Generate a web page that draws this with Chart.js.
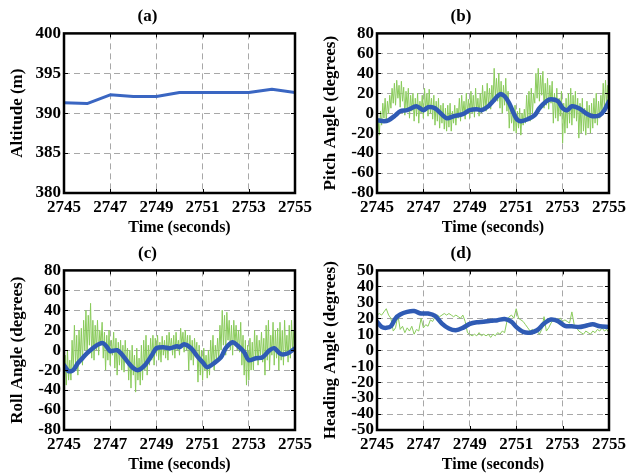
<!DOCTYPE html>
<html>
<head>
<meta charset="utf-8">
<script src="https://cdn.jsdelivr.net/npm/chart.js@4/dist/chart.umd.min.js"></script>
<style>
  html, body { margin: 0; padding: 0; background: #fff; }
  #wrap { position: relative; width: 626px; height: 474px; }
  canvas { position: absolute; }
</style>
</head>
<body>
<div id="wrap">
  <canvas id="panelA" width="313" height="237" style="left:0;top:0"></canvas>
  <canvas id="panelB" width="313" height="237" style="left:313px;top:0"></canvas>
  <canvas id="panelC" width="313" height="237" style="left:0;top:237px"></canvas>
  <canvas id="panelD" width="313" height="237" style="left:313px;top:237px"></canvas>
</div>
<script>
// ---- flight log, 2745 s to 2755 s ----
const timeTicks = [2745, 2747, 2749, 2751, 2753, 2755];

// (a) altitude, one sample per second
const altitudeTimes = [2745, 2746, 2747, 2748, 2749, 2750, 2751, 2752, 2753, 2754, 2755];
const altitude = [391.3, 391.2, 392.3, 392.1, 392.1, 392.6, 392.6, 392.6, 392.6, 393.0, 392.6];
const altitudeTicks = [380, 385, 390, 395, 400];

// raw IMU angles are logged at 20 Hz (heading at 10 Hz) starting at 2745 s
const RAW_START = 2745;
const RAW_STEP = 0.05;
const HEADING_STEP = 0.1;

// (b) pitch
const pitchRaw = [
  -30, -8, -22, 2,
  -12, 10, -5, 15, -8, 12, 0, 18,
  5, 25, 10, 30, 8, 33, 15, 28, 6, 32, 12, 26,
  -2, 22, 5, 25, -5, 18, 2, 20,
  -8, 15, -3, 20, -10, 12, 0, 18,
  -5, 25, 2, 20, -3, 24, 0, 15, -6, 18,
  -12, 12, -8, 15, -15, 8, -10, 10, -16, 5,
  -18, 8, -14, 10, -18, 2, -10, 8, -12, 5,
  -5, 15, -8, 18, -2, 12, -6, 20, 0, 14,
  -5, 22, 0, 18, -4, 25, 2, 15, -3, 20,
  0, 28, 5, 22, 2, 30, 8, 25, 4, 28,
  10, 45, 15, 35, 12, 40,
  5, 32, 0, 28, 8, 35, 2, 22,
  -15, 10, -10, 5, -18, 8,
  -20, 2, -15, 5, -22, 0, -12, 4,
  -10, 18, -5, 22, -8, 25, 0, 20,
  10, 40, 15, 45, 12, 38, 18, 42,
  5, 30, 8, 35, 4, 28, 10, 32,
  -10, 20, -5, 25, -8, 15, -3, 22,
  -30, 10, -20, 15,
  -15, 20, -10, 25, -12, 18, -5, 22, -8, 15,
  -25, 10, -20, 15, -18, 5, -22, 12, -15, 8, -20, 10,
  -15, 15, -10, 20, -12, 12, -5, 18,
  0, 30, 5, 33, 8, 28, 20
];
const pitchFilteredTimes = [2745.0, 2745.3, 2745.5, 2745.8, 2746.0, 2746.3, 2746.7, 2747.0, 2747.2, 2747.5,
  2748.0, 2748.3, 2748.7, 2749.0, 2749.3, 2749.5, 2749.8, 2750.0, 2750.3, 2750.5,
  2750.7, 2751.0, 2751.2, 2751.5, 2751.8, 2752.0, 2752.3, 2752.5, 2752.8, 2753.0,
  2753.2, 2753.4, 2753.7, 2754.0, 2754.3, 2754.6, 2754.8, 2755.0];
const pitchFiltered = [-7, -8, -7, -2, 2, 3, 7, 3, 6, 5,
  -5, -3, -1, 3, 4, 3, 7, 12, 19, 17,
  10, -5, -8, -6, -2, 5, 12, 14, 12, 5,
  3, 7, 5, 0, -3, -2, 3, 12];
const angleTicks = [-80, -60, -40, -20, 0, 20, 40, 60, 80];

// (c) roll
const rollRaw = [
  -45, -5, -35, 0, -30, -10,
  -30, 10, -20, 25, -15, 15, -25, 20, -10, 22,
  -15, 30, 0, 40, -5, 35, 5, 47, -8, 30,
  -10, 25, 0, 30, -5, 20, 5, 28, -8, 18,
  -20, 15, -10, 20, -15, 10, -5, 18, -18, 12,
  -25, 8, -15, 10, -20, 5, -22, 10, -12, 2,
  -30, 0, -38, 5, -25, -5, -42, 2, -30, -8, -35, 5,
  -30, 10, -20, 15, -25, 5, -15, 12, -10, 15,
  -15, 12, -5, 15, -10, 8, -12, 14, -5, 10, -8, 15,
  -10, 18, 0, 12, -5, 15, -8, 18, 0, 10,
  -5, 22, 5, 18, -2, 20, 0, 15,
  -20, 15, -10, 10, -15, 12, -5, 8,
  -32, 5, -25, 0, -30, 2, -20, -5, -28, 0,
  -25, 10, -15, 15, -20, 5, -10, 12,
  -10, 25, 0, 40, 5, 35, -5, 38, 10, 30, 0, 25,
  -5, 30, 5, 25, 0, 20, -2, 28,
  -15, 15, -25, 10, -35, 5, -30, 12, -20, 8,
  -20, 20, -10, 15, -15, 10, -5, 18, -12, 12,
  -25, 25, -10, 30, -20, 15, -5, 28, -15, 20, -8, 22,
  -20, 28, -10, 20, -15, 30, -5, 15, -12, 25, -8, 30, -2, 20, 5
];
const rollFilteredTimes = [2745.0, 2745.2, 2745.4, 2745.6, 2745.8, 2746.0, 2746.3, 2746.5, 2746.7, 2746.9,
  2747.0, 2747.3, 2747.5, 2747.8, 2748.0, 2748.2, 2748.5, 2748.8, 2749.0, 2749.3,
  2749.6, 2749.9, 2750.0, 2750.2, 2750.5, 2750.8, 2751.0, 2751.2, 2751.5, 2751.8,
  2752.0, 2752.3, 2752.5, 2752.8, 2753.0, 2753.3, 2753.6, 2753.9, 2754.1, 2754.4,
  2754.7, 2755.0];
const rollFiltered = [-15, -21, -20, -13, -8, -3, 3, 6, 7, 2,
  -1, 0, -4, -13, -18, -20, -15, -5, 2, 3,
  2, 4, 3, 6, 2, -7, -12, -17, -13, -7,
  2, 8, 5, -2, -10, -8, -7, 0, 2, -4,
  -3, 2];

// (d) heading
const headingRaw = [
  22, 23, 22, 24, 26, 22, 20, 12, 14, 22,
  13, 15, 11, 14, 12, 15, 10, 13, 12, 20,
  14, 16, 15, 19, 18, 21, 22, 21, 22, 23,
  22, 23, 22, 21, 22, 21, 20, 22, 18, 11,
  10, 9, 10, 9, 11, 9, 10, 9, 10, 8,
  10, 9, 11, 10, 12, 11, 18, 21, 22, 20,
  26, 20, 19, 18, 16, 14, 12, 13, 11, 12,
  10, 13, 21, 12, 14, 17, 19, 20, 19, 20,
  18, 19, 18, 17, 24, 16, 14, 12, 11, 10,
  12, 11, 10, 12, 11, 13, 12, 14, 12, 13,
  11
];
const headingFilteredTimes = [2745.0, 2745.2, 2745.4, 2745.6, 2745.8, 2746.0, 2746.3, 2746.6, 2746.9, 2747.2,
  2747.5, 2747.8, 2748.1, 2748.4, 2748.7, 2749.0, 2749.3, 2749.6, 2749.9, 2750.2,
  2750.5, 2750.8, 2751.0, 2751.3, 2751.6, 2751.9, 2752.2, 2752.5, 2752.8, 2753.1,
  2753.4, 2753.7, 2754.0, 2754.3, 2754.6, 2755.0];
const headingFiltered = [17.8, 14.6, 14, 15, 20, 22.4, 24, 24.5, 23, 23,
  21.5, 16.7, 13.6, 12.5, 14, 16.5, 17.5, 17.8, 18.4, 18.8,
  19.5, 17.8, 14.6, 11.5, 11, 12.5, 16.7, 19.2, 18.2, 15.3,
  15, 14.5, 15.3, 16.2, 15, 14.5];
const headingTicks = [-50, -40, -30, -20, -10, 0, 10, 20, 30, 40, 50];

// ---- drawing ----
const FONT = "'Liberation Serif', 'Times New Roman', serif";
const BLUE = '#2f5bb4';
const GREEN = '#8acb5c';

function sampled(values, start, step) {
  return values.map((v, i) => ({ x: start + i * step, y: v }));
}
function paired(times, values) {
  return times.map((t, i) => ({ x: t, y: values[i] }));
}

// black box round the plot area with small inward tick marks
const boxPlugin = {
  id: 'box',
  afterDraw(chart) {
    const { ctx, chartArea: a, scales } = chart;
    ctx.save();
    ctx.strokeStyle = '#000';
    ctx.lineWidth = 1;
    ctx.beginPath();
    scales.x.ticks.forEach(t => {
      const px = Math.round(scales.x.getPixelForValue(t.value)) + 0.5;
      ctx.moveTo(px, a.bottom); ctx.lineTo(px, a.bottom - 4);
      ctx.moveTo(px, a.top); ctx.lineTo(px, a.top + 4);
    });
    scales.y.ticks.forEach(t => {
      const py = Math.round(scales.y.getPixelForValue(t.value)) + 0.5;
      ctx.moveTo(a.left, py); ctx.lineTo(a.left + 4, py);
      ctx.moveTo(a.right, py); ctx.lineTo(a.right - 4, py);
    });
    ctx.stroke();
    ctx.lineWidth = 2.5;
    ctx.strokeRect(a.left, a.top, a.right - a.left, a.bottom - a.top);
    ctx.restore();
  }
};

function buildPanel(id, title, yTitle, yTicks, datasets, padRight) {
  const tickFont = { family: FONT, size: 17, weight: 'bold' };
  const gridOpts = { color: '#a8a8a8', lineWidth: 1, drawTicks: false, borderDash: [6, 4] };
  return new Chart(document.getElementById(id), {
    type: 'line',
    data: { datasets },
    options: {
      responsive: false,
      animation: false,
      events: [],
      layout: { padding: { left: 0, right: padRight, top: 0, bottom: 0 } },
      elements: { point: { radius: 0 } },
      plugins: {
        legend: { display: false },
        tooltip: { enabled: false },
        title: {
          display: true, text: title, color: '#000',
          font: { family: FONT, size: 17, weight: 'bold' },
          padding: { top: 6, bottom: 7 }
        }
      },
      scales: {
        x: {
          type: 'linear',
          min: timeTicks[0],
          max: timeTicks[timeTicks.length - 1],
          afterBuildTicks(s) { s.ticks = timeTicks.map(v => ({ value: v })); },
          afterFit(s) { s.height = 44; s.paddingLeft = 0; s.paddingRight = 0; },
          ticks: { color: '#000', font: tickFont, padding: 4, maxRotation: 0, autoSkip: false,
                   callback: v => String(v) },
          grid: gridOpts,
          border: { display: false, dash: [6, 4] },
          title: { display: true, text: 'Time (seconds)', color: '#000',
                   font: { family: FONT, size: 16, weight: 'bold' }, padding: { top: 0, bottom: 0 } }
        },
        y: {
          type: 'linear',
          min: yTicks[0],
          max: yTicks[yTicks.length - 1],
          afterBuildTicks(s) { s.ticks = yTicks.map(v => ({ value: v })); },
          afterFit(s) { s.width = 64; s.paddingTop = 0; s.paddingBottom = 0; },
          ticks: { color: '#000', font: tickFont, padding: 3, autoSkip: false,
                   callback: v => String(v) },
          grid: gridOpts,
          border: { display: false, dash: [6, 4] },
          title: { display: true, text: yTitle, color: '#000',
                   font: { family: FONT, size: 17, weight: 'bold' }, padding: { top: 7, bottom: 0 } }
        }
      }
    },
    plugins: [boxPlugin]
  });
}

function filteredLine(points, width) {
  return { data: points, borderColor: BLUE, borderWidth: width, tension: 0.3,
           borderCapStyle: 'round', borderJoinStyle: 'round', pointRadius: 0, fill: false };
}
function rawLine(points) {
  return { data: points, borderColor: GREEN, borderWidth: 1, tension: 0,
           pointRadius: 0, fill: false };
}

buildPanel('panelA', '(a)', 'Altitude (m)', altitudeTicks, [
  { data: paired(altitudeTimes, altitude), borderColor: '#3a66c2', borderWidth: 3, tension: 0,
    borderJoinStyle: 'round', pointRadius: 0, fill: false }
], 18);

buildPanel('panelB', '(b)', 'Pitch Angle (degrees)', angleTicks, [
  filteredLine(paired(pitchFilteredTimes, pitchFiltered), 4.5),
  rawLine(sampled(pitchRaw, RAW_START, RAW_STEP))
], 17);

buildPanel('panelC', '(c)', 'Roll Angle (degrees)', angleTicks, [
  filteredLine(paired(rollFilteredTimes, rollFiltered), 4.5),
  rawLine(sampled(rollRaw, RAW_START, RAW_STEP))
], 18);

buildPanel('panelD', '(d)', 'Heading Angle (degrees)', headingTicks, [
  filteredLine(paired(headingFilteredTimes, headingFiltered), 4.5),
  rawLine(sampled(headingRaw, RAW_START, HEADING_STEP))
], 17);
</script>
</body>
</html>
